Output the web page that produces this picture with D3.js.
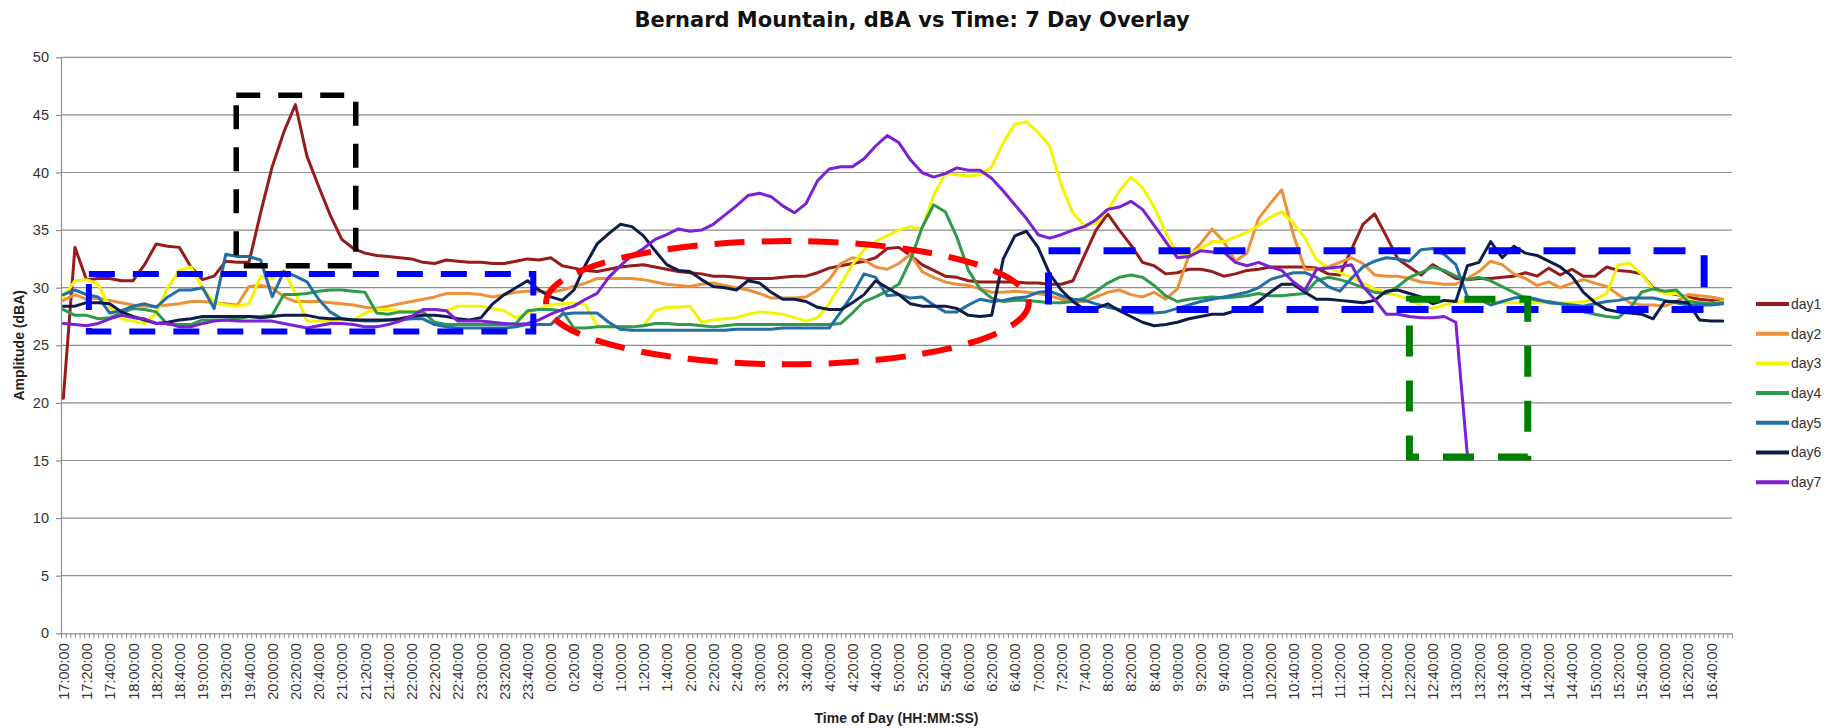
<!DOCTYPE html>
<html><head><meta charset="utf-8">
<script src="https://cdn.jsdelivr.net/npm/d3@7/dist/d3.min.js"></script>
<style>html,body{margin:0;padding:0;background:#fff;} svg{display:block;}</style>
</head><body>
<svg id="chart" width="1839" height="728"></svg>
<script>
// ---------------- DATA ----------------
const chartTitle = "Bernard Mountain, dBA vs Time: 7 Day Overlay";
const xTitle = "Time of Day (HH:MM:SS)";
const yTitle = "Amplitude (dBA)";
const seriesNames = ["day1","day2","day3","day4","day5","day6","day7"];
const yTicks = [0,5,10,15,20,25,30,35,40,45,50];
const xLabels = ["17:00:00","17:20:00","17:40:00","18:00:00","18:20:00","18:40:00","19:00:00","19:20:00","19:40:00","20:00:00","20:20:00","20:40:00","21:00:00","21:20:00","21:40:00","22:00:00","22:20:00","22:40:00","23:00:00","23:20:00","23:40:00","0:00:00","0:20:00","0:40:00","1:00:00","1:20:00","1:40:00","2:00:00","2:20:00","2:40:00","3:00:00","3:20:00","3:40:00","4:00:00","4:20:00","4:40:00","5:00:00","5:20:00","5:40:00","6:00:00","6:20:00","6:40:00","7:00:00","7:20:00","7:40:00","8:00:00","8:20:00","8:40:00","9:00:00","9:20:00","9:40:00","10:00:00","10:20:00","10:40:00","11:00:00","11:20:00","11:40:00","12:00:00","12:20:00","12:40:00","13:00:00","13:20:00","13:40:00","14:00:00","14:20:00","14:40:00","15:00:00","15:20:00","15:40:00","16:00:00","16:20:00","16:40:00"];

// readings every 10 minutes, starting 17:00:00
const day1 = [
20.4,33.5,30.7,30.8,30.8,30.6,30.6,32.0,33.8,33.6,33.5,31.8,
30.7,31.0,32.3,32.2,32.2,36.5,40.5,43.5,45.9,41.4,38.8,36.3,
34.2,33.4,33.0,32.8,32.7,32.6,32.5,32.2,32.1,32.4,32.3,32.2,
32.2,32.1,32.1,32.3,32.5,32.4,32.6,31.9,31.7,31.5,31.4,31.6,
31.8,31.9,32.0,31.8,31.6,31.4,31.3,31.2,31.0,31.0,30.9,30.8,
30.8,30.8,30.9,31.0,31.0,31.3,31.7,31.9,32.1,32.3,32.6,33.4,
33.5,32.8,32.0,31.5,31.0,30.9,30.6,30.5,30.5,30.5,30.5,30.4,
30.4,30.3,30.3,30.6,32.8,35.0,36.4,35.0,33.7,32.2,31.9,31.2,
31.3,31.6,31.6,31.4,31.0,31.2,31.5,31.6,31.8,31.8,31.8,31.8,
31.7,31.2,31.1,33.3,35.5,36.4,34.5,32.5,31.8,31.1,32.0,31.4,
30.8,30.7,30.8,30.8,30.9,31.0,31.3,31.0,31.7,31.1,31.6,31.0,
31.0,31.8,31.5,31.4,31.2,30.0,29.6,29.4,29.2,29.0,28.9,28.8];
const day2 = [
28.9,29.4,29.0,29.1,28.9,28.7,28.5,28.4,28.4,28.5,28.6,28.8,
28.8,28.7,28.6,28.5,30.1,30.2,30.0,29.2,28.8,28.8,28.8,28.7,
28.6,28.5,28.3,28.2,28.4,28.6,28.8,29.0,29.2,29.5,29.5,29.5,
29.4,29.2,29.4,29.6,29.7,29.7,29.6,29.8,30.1,30.4,30.8,30.8,
30.8,30.8,30.7,30.5,30.3,30.2,30.1,30.3,30.4,30.2,30.0,29.8,
29.5,29.1,29.1,29.1,29.2,29.8,30.7,32.1,32.6,32.4,31.8,31.6,
32.1,32.9,31.4,30.9,30.5,30.3,30.2,29.9,29.6,29.6,29.7,29.6,
29.5,29.3,29.0,28.8,28.8,29.2,29.6,29.8,29.4,29.2,29.6,29.0,
29.9,32.8,33.8,35.1,34.0,32.3,33.0,36.0,37.3,38.5,34.6,31.6,
31.6,31.8,32.2,32.6,32.1,31.1,31.0,31.0,30.8,30.5,30.4,30.3,
30.3,30.8,31.4,32.3,32.0,31.2,30.8,30.2,30.5,30.0,30.4,30.7,
30.4,30.1,29.4,28.7,28.5,28.5,28.4,28.8,29.4,29.3,29.2,29.0];
const day3 = [
29.2,30.6,30.7,30.3,28.3,27.3,27.1,26.9,27.8,30.0,31.5,31.8,
30.0,28.7,28.5,28.4,28.6,31.0,30.8,31.5,29.5,27.1,27.1,27.1,
27.2,27.2,27.8,28.1,28.1,28.0,27.9,28.0,28.1,28.0,28.4,28.4,
28.4,28.2,28.0,27.4,27.8,28.2,28.5,28.6,28.7,28.5,26.7,26.6,
26.6,26.6,26.7,28.0,28.3,28.3,28.4,27.0,27.2,27.3,27.4,27.7,
27.9,27.8,27.7,27.4,27.1,27.4,28.6,30.3,32.0,33.3,34.0,34.5,
35.0,35.3,35.1,38.0,39.9,39.8,39.7,39.8,40.5,42.6,44.2,44.4,
43.5,42.3,38.9,36.5,35.4,35.6,36.7,38.4,39.6,38.7,37.0,34.8,
32.9,32.9,33.4,34.0,34.0,34.4,34.8,35.4,36.1,36.6,35.6,34.3,
32.4,31.8,31.3,30.9,30.4,29.9,29.6,29.3,29.0,28.4,28.2,28.5,
28.8,28.8,28.8,28.8,28.7,28.7,28.7,28.7,28.7,28.7,28.7,28.8,
29.0,29.5,32.0,32.1,31.2,29.9,29.5,29.5,29.0,28.6,28.6,28.8];
const day4 = [
28.1,27.6,27.6,27.3,27.4,27.8,28.2,28.1,27.9,26.8,26.8,26.8,
27.2,27.2,27.2,27.3,27.5,27.5,27.6,29.4,29.4,29.5,29.7,29.8,
29.8,29.7,29.6,27.8,27.7,27.9,27.9,27.9,27.0,26.8,26.8,26.8,
26.8,26.8,26.8,26.9,28.0,28.1,28.1,28.0,26.5,26.5,26.6,26.6,
26.6,26.6,26.7,26.9,26.9,26.8,26.8,26.7,26.6,26.7,26.8,26.8,
26.8,26.8,26.8,26.8,26.8,26.8,26.8,26.9,27.8,28.8,29.2,29.7,
30.3,32.4,35.2,37.2,36.6,34.4,31.5,29.9,29.1,28.8,28.9,28.9,
28.8,28.7,28.7,28.8,29.1,29.7,30.4,30.9,31.1,30.9,30.2,29.3,
28.8,29.0,29.1,29.2,29.1,29.2,29.3,29.5,29.3,29.3,29.4,29.5,
30.6,30.9,30.7,30.4,30.0,29.6,29.5,30.1,30.9,31.3,31.8,31.5,
31.0,30.7,30.9,30.6,30.1,29.6,29.1,28.9,28.8,28.6,28.4,27.9,
27.7,27.5,27.4,28.2,29.6,29.9,29.7,29.8,28.8,28.7,28.6,28.7];
const day5 = [
29.4,29.8,29.4,29.2,27.8,28.0,28.4,28.6,28.3,29.2,29.8,29.8,
30.0,28.2,32.9,32.7,32.7,32.4,29.2,31.4,31.0,30.5,29.0,27.9,
27.3,27.2,27.1,27.1,27.2,27.2,27.3,27.3,26.8,26.6,26.5,26.5,
26.5,26.5,26.5,26.6,26.8,26.8,26.8,27.7,27.8,27.8,27.8,27.0,
26.4,26.3,26.3,26.3,26.3,26.3,26.3,26.3,26.3,26.3,26.4,26.4,
26.4,26.4,26.5,26.5,26.5,26.5,26.5,27.9,29.4,31.2,30.9,29.3,
29.4,29.1,29.2,28.5,27.9,27.9,28.5,29.0,28.8,28.9,29.1,29.2,
29.6,29.7,29.3,29.0,28.9,28.6,28.3,28.1,27.9,27.8,27.8,27.9,
28.2,28.5,28.8,29.0,29.2,29.4,29.6,30.0,30.7,31.0,31.3,31.3,
30.9,30.1,29.7,30.8,31.8,32.3,32.6,32.5,32.3,33.3,33.4,32.9,
32.0,29.2,29.0,28.5,28.8,29.1,29.2,29.0,28.7,28.6,28.5,28.4,
28.6,28.8,28.9,29.1,29.1,29.1,28.9,28.7,28.5,28.5,28.5,28.6];
const day6 = [
28.4,28.4,28.7,28.7,28.6,27.9,27.5,27.2,26.9,27.0,27.2,27.3,
27.5,27.5,27.5,27.5,27.5,27.4,27.5,27.6,27.6,27.6,27.4,27.3,
27.3,27.2,27.2,27.2,27.2,27.3,27.5,27.6,27.6,27.5,27.3,27.2,
27.4,28.6,29.4,30.0,30.6,29.8,29.2,28.9,29.8,32.0,33.8,34.7,
35.5,35.3,34.5,33.2,32.0,31.5,31.4,30.7,30.1,30.0,29.8,30.6,
30.4,29.6,29.0,29.0,28.8,28.3,28.1,28.1,28.7,29.4,30.6,30.0,
29.4,28.6,28.4,28.4,28.4,28.2,27.6,27.5,27.6,32.5,34.5,34.9,
33.5,31.2,29.8,28.8,28.1,28.2,28.6,28.0,27.5,27.0,26.7,26.8,
27.0,27.3,27.5,27.7,27.7,28.0,28.2,28.8,29.6,30.3,30.3,29.6,
29.0,29.0,28.9,28.8,28.7,28.9,29.7,29.8,29.5,29.2,28.6,28.9,
28.8,31.9,32.2,34.0,32.6,33.6,33.0,32.8,32.3,31.8,31.0,29.6,
28.7,28.1,27.9,27.8,27.7,27.3,28.8,28.8,28.7,27.2,27.1,27.1];
const day7 = [
26.9,26.8,26.7,26.9,27.3,27.6,27.4,27.3,26.9,26.9,26.6,26.6,
26.9,27.1,27.2,27.1,27.1,27.1,27.1,26.9,26.7,26.5,26.7,26.9,
26.9,26.8,26.6,26.6,26.8,27.1,27.5,28.1,28.1,28.0,27.1,27.1,
27.1,27.0,26.9,26.8,26.9,27.2,27.7,28.1,28.4,29.0,29.5,30.9,
31.9,32.8,33.4,34.2,34.6,35.1,34.9,35.0,35.5,36.3,37.1,38.0,
38.2,37.9,37.1,36.5,37.3,39.3,40.3,40.5,40.5,41.2,42.3,43.2,
42.6,41.1,40.0,39.6,39.9,40.4,40.2,40.2,39.5,38.4,37.2,36.0,
34.6,34.3,34.6,35.0,35.3,35.9,36.8,37.0,37.5,36.8,35.4,34.0,
32.6,32.7,33.2,33.1,33.1,32.2,31.9,32.2,31.8,31.5,30.5,29.8,
31.6,31.7,31.8,32.0,30.1,29.0,27.7,27.7,27.5,27.4,27.4,27.5,
27.0,15.4,null,null,null,null,null,null,null,null,null,null,
null,null,null,null,null,null,null,null,null,null,null,null];
const seriesValues = [day1, day2, day3, day4, day5, day6, day7];

// hand-drawn annotation marks, in data units (minutes after 17:00, dBA)
const boxBlackT = [149, 252], boxBlackV = [31.9, 46.7];
const boxBlue1T = [22, 405],  boxBlue1V = [26.2, 31.2];
const boxBlue2T = [849, 1414], boxBlue2V = [28.1, 33.2];
const boxGreenT = [1160, 1262], boxGreenV = [15.3, 29.0];
const ellipseRedCenter = [624, 28.7], ellipseRedRadius = [208, 5.35];

// ---------------- STYLE / LAYOUT ----------------
const colors = ["#971b1b","#ec9138","#f4f400","#2e9a4c","#226fa6","#0f1c4a","#7d1fd3"];
const sampleMinutes = 10;
const M = {left:61, right:1732, top:57.3, bottom:633.3};
const tickFont = "'Liberation Sans', Arial, sans-serif";
const gridColor = "#8e8e8e";

const svg = d3.select("#chart");
svg.append("rect").attr("width",1839).attr("height",728).attr("fill","#fff");

const x = d3.scaleLinear().domain([-2, 1438]).range([M.left, M.right]);
const y = d3.scaleLinear().domain([0, 50]).range([M.bottom, M.top]);

// gridlines
svg.append("g").selectAll("line").data(yTicks.filter(d => d > 0)).join("line")
  .attr("x1", M.left).attr("x2", M.right)
  .attr("y1", d => y(d)).attr("y2", d => y(d))
  .attr("stroke", gridColor).attr("stroke-width", 1.2);

// y axis
const gy = svg.append("g").attr("transform", `translate(${M.left},0)`)
  .call(d3.axisLeft(y).tickValues(yTicks).tickSize(5).tickSizeOuter(0).tickPadding(7));
gy.select(".domain").attr("stroke", gridColor).attr("stroke-width", 1.2);
gy.selectAll(".tick line").attr("stroke", gridColor).attr("stroke-width", 1.2);
gy.selectAll("text").attr("font-family", tickFont).attr("font-size", "14.5px").attr("fill", "#333");

// x axis: minor ticks at category boundaries (4-minute bins)
const minorTicks = d3.range(-2, 1439, 4);
const gxm = svg.append("g").attr("transform", `translate(0,${M.bottom})`)
  .call(d3.axisBottom(x).tickValues(minorTicks).tickSize(5).tickSizeOuter(0).tickFormat(""));
gxm.select(".domain").attr("stroke", gridColor).attr("stroke-width", 1.2);
gxm.selectAll(".tick line").attr("stroke", gridColor).attr("stroke-width", 1);

// x axis labels
const gxl = svg.append("g").attr("transform", `translate(0,${M.bottom})`)
  .call(d3.axisBottom(x).tickValues(xLabels.map((d, i) => i * 20)).tickSize(0)
    .tickFormat((d, i) => xLabels[i]));
gxl.select(".domain").remove();
gxl.selectAll("text")
  .attr("transform", "rotate(-90)")
  .attr("text-anchor", "end")
  .attr("x", -10).attr("y", 0).attr("dy", "0.35em")
  .attr("font-family", tickFont).attr("font-size", "14.5px").attr("fill", "#333");

// series lines
const line = d3.line()
  .defined(d => d !== null)
  .x((d, i) => x(i * sampleMinutes))
  .y(d => y(d));
svg.append("g").selectAll("path").data(seriesValues).join("path")
  .attr("d", d => line(d))
  .attr("fill", "none")
  .attr("stroke", (d, i) => colors[i])
  .attr("stroke-width", 3)
  .attr("stroke-linejoin", "round")
  .attr("stroke-linecap", "round");

// annotations
const ann = svg.append("g");
function box(T, V, color, width, dash) {
  const p = d3.path();
  p.moveTo(x(T[0]), y(V[1]));
  p.lineTo(x(T[1]), y(V[1]));
  p.lineTo(x(T[1]), y(V[0]));
  p.lineTo(x(T[0]), y(V[0]));
  p.closePath();
  ann.append("path").attr("d", p.toString()).attr("fill", "none")
    .attr("stroke", color).attr("stroke-width", width).attr("stroke-dasharray", dash);
}
box(boxBlackT, boxBlackV, "#000000", 5.5, "24,18");
box(boxBlue1T, boxBlue1V, "#0000ff", 6, "26,18");
box(boxBlue2T, boxBlue2V, "#0000ff", 7, "32,23");
box(boxGreenT, boxGreenV, "#008000", 7, "31,24");
ann.append("ellipse")
  .attr("cx", x(ellipseRedCenter[0])).attr("cy", y(ellipseRedCenter[1]))
  .attr("rx", x(ellipseRedCenter[0] + ellipseRedRadius[0]) - x(ellipseRedCenter[0]))
  .attr("ry", y(ellipseRedCenter[1] - ellipseRedRadius[1]) - y(ellipseRedCenter[1]))
  .attr("fill", "none").attr("stroke", "#ff0000").attr("stroke-width", 6)
  .attr("stroke-dasharray", "30,17");

// titles
svg.append("text").attr("x", 912).attr("y", 26.5).attr("text-anchor", "middle")
  .attr("font-family", "'DejaVu Sans', sans-serif").attr("font-weight", "bold")
  .attr("font-size", "21px").attr("fill", "#111").text(chartTitle);
svg.append("text").attr("x", (M.left + M.right) / 2).attr("y", 723).attr("text-anchor", "middle")
  .attr("font-family", tickFont).attr("font-weight", "bold")
  .attr("font-size", "14px").attr("fill", "#222").text(xTitle);
svg.append("text").attr("transform", `translate(24,${(M.top + M.bottom) / 2}) rotate(-90)`)
  .attr("text-anchor", "middle")
  .attr("font-family", tickFont).attr("font-weight", "bold")
  .attr("font-size", "14px").attr("fill", "#222").text(yTitle);

// legend
const lg = svg.append("g").selectAll("g").data(seriesNames).join("g")
  .attr("transform", (d, i) => `translate(1756,${304 + i * 29.7})`);
lg.append("line").attr("x1", 0).attr("x2", 33).attr("y1", 0).attr("y2", 0)
  .attr("stroke", (d, i) => colors[i]).attr("stroke-width", 4);
lg.append("text").attr("x", 35).attr("y", 0).attr("dy", "0.35em")
  .attr("font-family", tickFont).attr("font-size", "14px").attr("fill", "#333")
  .text(d => d);
</script>
</body></html>
